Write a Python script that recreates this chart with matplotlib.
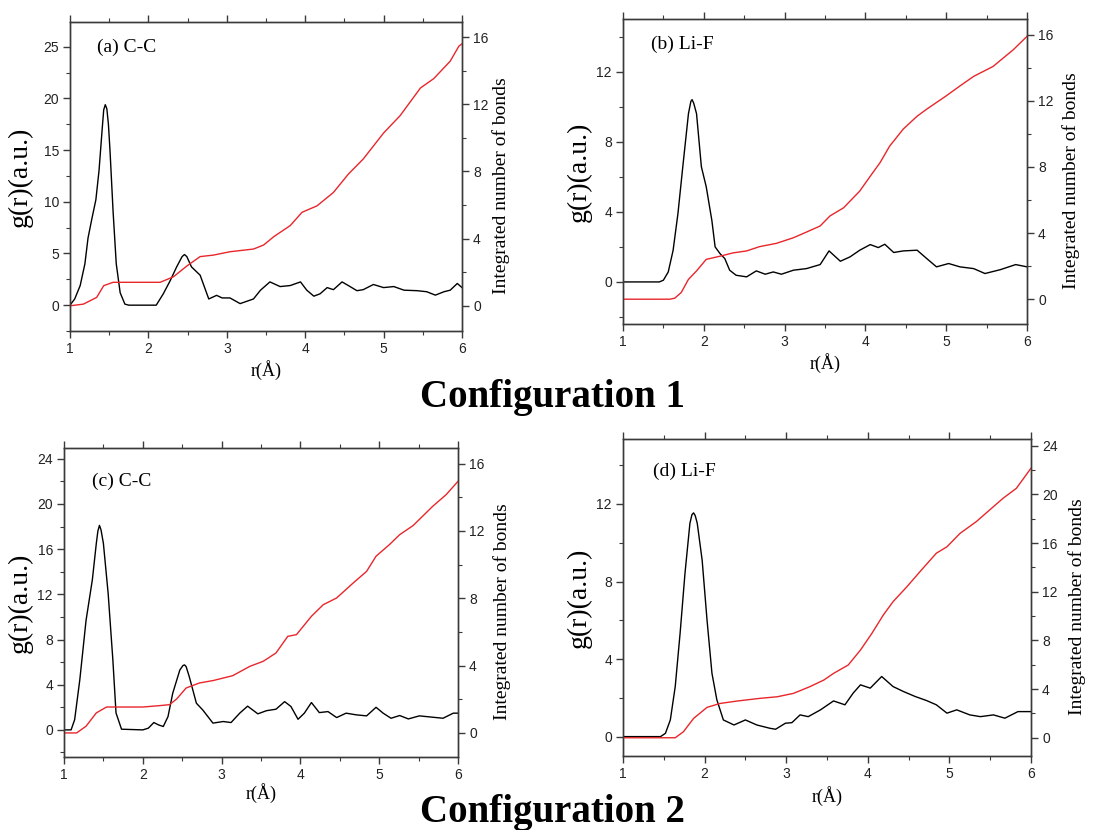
import matplotlib
matplotlib.use("Agg")
import matplotlib.pyplot as plt
from matplotlib.ticker import MultipleLocator

SERIF = "Liberation Serif"
SANS = "Liberation Sans"

# ---- (a) C-C, configuration 1 ----
r_a = [1.0, 1.06, 1.13, 1.19, 1.23, 1.28, 1.33, 1.37, 1.41, 1.43, 1.45, 1.47, 1.49, 1.51,
       1.55, 1.59, 1.64, 1.70, 1.75, 2.10, 2.19, 2.28, 2.36, 2.43, 2.46, 2.49, 2.55, 2.66,
       2.77, 2.87, 2.94, 3.04, 3.17, 3.34, 3.43, 3.55, 3.68, 3.81, 3.94, 4.02, 4.11, 4.19,
       4.28, 4.36, 4.47, 4.55, 4.66, 4.74, 4.87, 5.00, 5.13, 5.26, 5.43, 5.55, 5.66, 5.77,
       5.85, 5.94, 6.0]
g_a = [0.0, 0.6, 1.9, 4.0, 6.5, 8.4, 10.2, 13.0, 17.0, 18.9, 19.4, 19.0, 17.5, 15.0,
       9.0, 4.0, 1.2, 0.1, 0.0, 0.0, 1.1, 2.4, 3.7, 4.7, 4.9, 4.7, 3.7, 2.9,
       0.6, 0.95, 0.7, 0.7, 0.15, 0.6, 1.45, 2.25, 1.8, 1.9, 2.25, 1.45, 0.87, 1.1,
       1.7, 1.5, 2.25, 1.9, 1.4, 1.5, 2.0, 1.7, 1.8, 1.45, 1.4, 1.3, 0.97, 1.3,
       1.45, 2.1, 1.7]
rn_a = [1.0, 1.17, 1.34, 1.43, 1.55, 2.15, 2.32, 2.49, 2.66, 2.83, 3.04, 3.34, 3.47, 3.60,
        3.81, 3.96, 4.15, 4.36, 4.55, 4.74, 5.00, 5.21, 5.47, 5.64, 5.85, 5.96, 6.0]
n_a = [0.0, 0.1, 0.5, 1.2, 1.4, 1.4, 1.73, 2.37, 2.93, 3.02, 3.22, 3.38, 3.62, 4.12,
       4.78, 5.57, 5.95, 6.75, 7.84, 8.74, 10.29, 11.32, 12.97, 13.53, 14.57, 15.46, 15.6]

# ---- (b) Li-F, configuration 1 ----
r_b = [1.0, 1.45, 1.50, 1.56, 1.62, 1.68, 1.74, 1.81, 1.84, 1.855, 1.875, 1.91, 1.97, 2.03,
       2.10, 2.14, 2.20, 2.26, 2.32, 2.40, 2.53, 2.65, 2.76, 2.86, 2.96, 3.11, 3.27, 3.44,
       3.55, 3.69, 3.81, 3.93, 4.06, 4.16, 4.24, 4.35, 4.47, 4.64, 4.76, 4.88, 5.03, 5.17,
       5.34, 5.48, 5.67, 5.86, 6.0]
g_b = [0.0, 0.0, 0.1, 0.57, 1.8, 3.9, 6.57, 9.6, 10.3, 10.4, 10.2, 9.6, 6.57, 5.43,
       3.5, 2.0, 1.62, 1.33, 0.67, 0.38, 0.29, 0.63, 0.44, 0.57, 0.44, 0.67, 0.76, 0.99,
       1.77, 1.18, 1.43, 1.81, 2.13, 1.96, 2.15, 1.68, 1.77, 1.81, 1.33, 0.86, 1.05, 0.86,
       0.76, 0.48, 0.7, 0.99, 0.86]
rn_b = [1.0, 1.58, 1.64, 1.72, 1.81, 1.91, 2.03, 2.20, 2.36, 2.53, 2.69, 2.90, 3.11, 3.27,
        3.44, 3.56, 3.73, 3.93, 4.06, 4.18, 4.30, 4.47, 4.64, 4.76, 5.0, 5.17, 5.34, 5.58,
        5.83, 6.0]
n_b = [0.0, 0.0, 0.06, 0.4, 1.2, 1.71, 2.41, 2.6, 2.8, 2.92, 3.18, 3.38, 3.72, 4.06,
       4.43, 5.03, 5.53, 6.54, 7.44, 8.25, 9.26, 10.3, 11.07, 11.5, 12.3, 12.9, 13.48, 14.08,
       15.09, 15.9]

# ---- (c) C-C, configuration 2 ----
r_c = [1.0, 1.09, 1.135, 1.20, 1.28, 1.36, 1.41, 1.43, 1.45, 1.47, 1.50, 1.56, 1.62, 1.66,
       1.73, 2.00, 2.07, 2.14, 2.20, 2.26, 2.32, 2.38, 2.47, 2.51, 2.53, 2.55, 2.59, 2.68,
       2.76, 2.89, 3.02, 3.12, 3.23, 3.33, 3.46, 3.57, 3.69, 3.80, 3.88, 3.97, 4.05, 4.14,
       4.24, 4.35, 4.46, 4.58, 4.71, 4.84, 4.96, 5.05, 5.15, 5.26, 5.37, 5.51, 5.68, 5.81,
       5.94, 6.0]
g_c = [0.0, 0.0, 0.9, 4.4, 9.7, 13.3, 16.5, 17.6, 18.1, 17.7, 16.5, 12.1, 6.2, 1.5,
       0.06, 0.0, 0.15, 0.65, 0.44, 0.3, 1.18, 3.25, 5.3, 5.7, 5.75, 5.6, 4.7, 2.36,
       1.77, 0.6, 0.74, 0.65, 1.48, 2.1, 1.42, 1.7, 1.83, 2.5, 2.07, 0.94, 1.48, 2.42,
       1.53, 1.62, 1.09, 1.48, 1.33, 1.24, 2.0, 1.48, 1.03, 1.27, 0.97, 1.24, 1.12, 1.03,
       1.48, 1.48]
rn_c = [1.0, 1.16, 1.28, 1.41, 1.54, 2.00, 2.21, 2.34, 2.43, 2.55, 2.72, 2.89, 3.14, 3.36,
        3.53, 3.69, 3.84, 3.95, 4.14, 4.29, 4.46, 4.67, 4.84, 4.96, 5.13, 5.26, 5.43, 5.68,
        5.85, 6.0]
n_c = [0.0, 0.0, 0.4, 1.19, 1.54, 1.54, 1.62, 1.68, 2.02, 2.67, 2.97, 3.11, 3.4, 3.96,
       4.26, 4.75, 5.74, 5.84, 6.93, 7.62, 8.02, 8.91, 9.6, 10.5, 11.19, 11.78, 12.32, 13.47,
       14.16, 14.95]

# ---- (d) Li-F, configuration 2 ----
r_d = [1.0, 1.46, 1.52, 1.58, 1.64, 1.70, 1.76, 1.82, 1.845, 1.865, 1.885, 1.91, 1.97, 2.03,
       2.09, 2.15, 2.23, 2.36, 2.50, 2.64, 2.80, 2.87, 2.99, 3.07, 3.17, 3.27, 3.42, 3.58,
       3.72, 3.82, 3.91, 4.03, 4.17, 4.31, 4.44, 4.58, 4.72, 4.84, 4.97, 5.09, 5.25, 5.38,
       5.54, 5.68, 5.84, 6.0]
g_d = [0.0, 0.0, 0.17, 0.86, 2.58, 5.34, 8.44, 11.0, 11.45, 11.54, 11.4, 11.0, 9.1, 6.0,
       3.27, 1.9, 0.86, 0.6, 0.86, 0.6, 0.43, 0.38, 0.69, 0.72, 1.12, 1.03, 1.38, 1.84,
       1.64, 2.24, 2.67, 2.5, 3.1, 2.58, 2.32, 2.07, 1.86, 1.64, 1.21, 1.38, 1.12, 1.03,
       1.12, 0.95, 1.29, 1.29]
rn_d = [1.0, 1.64, 1.74, 1.865, 2.03, 2.19, 2.40, 2.68, 2.89, 3.09, 3.29, 3.46, 3.58, 3.76,
        3.91, 4.05, 4.19, 4.31, 4.48, 4.64, 4.84, 4.97, 5.13, 5.33, 5.54, 5.66, 5.82, 6.0]
n_d = [0.0, 0.0, 0.49, 1.59, 2.5, 2.82, 3.02, 3.24, 3.37, 3.65, 4.2, 4.74, 5.29, 5.98,
       7.21, 8.58, 10.09, 11.19, 12.42, 13.66, 15.17, 15.7, 16.8, 17.77, 19.0, 19.7, 20.5, 22.16]

panels = [
    dict(r=r_a, g=g_a, rn=rn_a, n=n_a, text="(a) C-C", box=(70, 22, 462, 331),
         yl=(-2.5, 27.4), yr=(-1.5, 16.9), lstep=5, rstep=4,
         ylx=-0.094, yrx=1.076, xly=-0.094, tx=(0.069, 0.919)),
    dict(r=r_b, g=g_b, rn=rn_b, n=n_b, text="(b) Li-F", box=(623, 19, 1027, 324),
         yl=(-2.4, 15.0), yr=(-1.5, 16.95), lstep=4, rstep=4,
         ylx=-0.078, yrx=1.086, xly=-0.095, tx=(0.069, 0.916)),
    dict(r=r_c, g=g_c, rn=rn_c, n=n_c, text="(c) C-C", box=(64, 448, 458, 757),
         yl=(-2.4, 24.95), yr=(-1.43, 16.93), lstep=4, rstep=4,
         ylx=-0.079, yrx=1.088, xly=-0.084, tx=(0.072, 0.892)),
    dict(r=r_d, g=g_d, rn=rn_d, n=n_d, text="(d) Li-F", box=(623, 439, 1031, 756),
         yl=(-1.0, 15.35), yr=(-1.5, 24.56), lstep=4, rstep=4,
         ylx=-0.076, yrx=1.091, xly=-0.095, tx=(0.073, 0.897)),
]

W, H = 1099, 830
fig = plt.figure(figsize=(W / 100, H / 100), dpi=100)
spine_c = "#3a3a3a"

for p in panels:
    l, t, rr, b = p["box"]
    ax = fig.add_axes([l / W, 1 - b / H, (rr - l) / W, (b - t) / H])
    ax2 = ax.twinx()

    ax.plot(p["r"], p["g"], color="black", lw=1.0)
    ax2.plot(p["rn"], p["n"], color="#e8262b", lw=1.0)

    ax.set_xlim(1, 6)
    ax.set_ylim(*p["yl"])
    ax2.set_ylim(*p["yr"])
    ax.xaxis.set_major_locator(MultipleLocator(1))
    ax.xaxis.set_minor_locator(MultipleLocator(0.5))
    ax.yaxis.set_major_locator(MultipleLocator(p["lstep"]))
    ax.yaxis.set_minor_locator(MultipleLocator(p["lstep"] / 2))
    ax2.yaxis.set_major_locator(MultipleLocator(p["rstep"]))
    ax2.yaxis.set_minor_locator(MultipleLocator(p["rstep"] / 2))

    for a in (ax, ax2):
        for s in a.spines.values():
            s.set_color(spine_c)
            s.set_linewidth(1.0)
        a.tick_params(which="both", direction="out", color=spine_c, labelcolor="#222222",
                      labelsize=10, pad=3)
        a.tick_params(which="major", length=5, width=1.0)
        a.tick_params(which="minor", length=3, width=0.8)
        for lab in a.get_xticklabels() + a.get_yticklabels():
            lab.set_fontfamily(SANS)
    ax.tick_params(axis="x", which="both", top=True)

    ax.set_xlabel("r(Å)", fontfamily=SERIF, fontsize=13)
    ax.xaxis.set_label_coords(0.5, p["xly"])
    ax.set_ylabel("g(r)(a.u.)", fontfamily=SERIF, fontsize=20)
    ax.yaxis.set_label_coords(p["ylx"], 0.5)
    ax2.set_ylabel("Integrated number of bonds", fontfamily=SERIF, fontsize=14)
    ax2.yaxis.set_label_coords(p["yrx"], 0.47)

    ax.text(p["tx"][0], p["tx"][1], p["text"], transform=ax.transAxes,
            fontfamily=SERIF, fontsize=14, va="center", ha="left")

fig.text(552 / W, 1 - 398 / H, "Configuration 1", fontfamily=SERIF, fontweight="bold",
         fontsize=28, ha="center", va="center")
fig.text(552 / W, 1 - 812 / H, "Configuration 2", fontfamily=SERIF, fontweight="bold",
         fontsize=28, ha="center", va="center")

fig.savefig("out.png", dpi=100)
